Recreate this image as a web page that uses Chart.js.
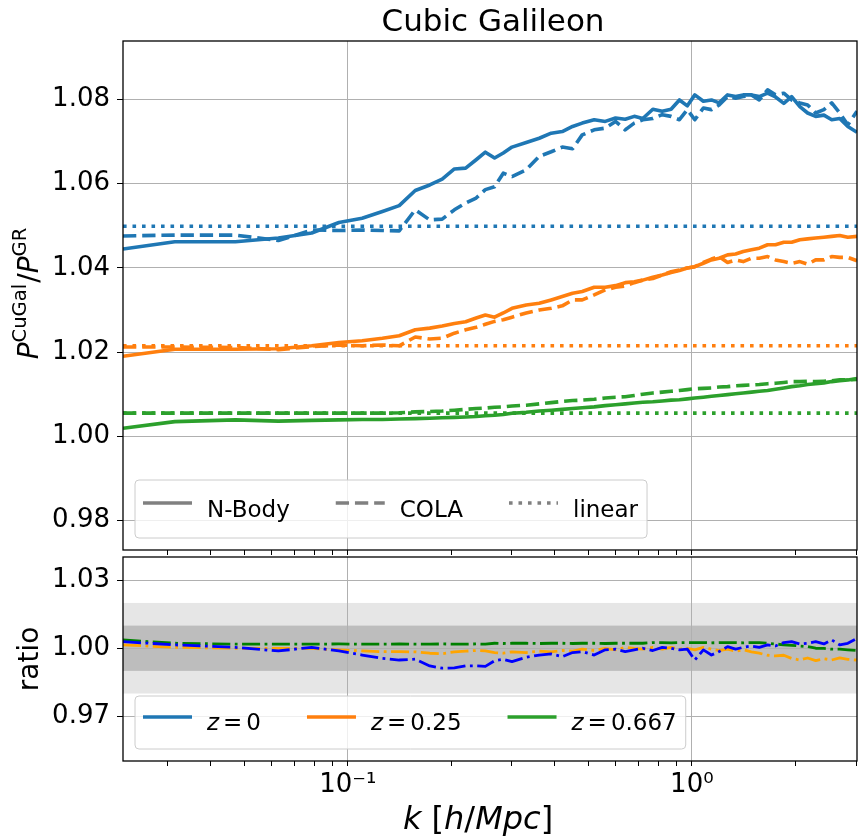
<!DOCTYPE html>
<html>
<head>
<meta charset="utf-8">
<script src="https://cdn.jsdelivr.net/npm/chart.js@4.4.0/dist/chart.umd.min.js"></script>
<style>
  html, body { margin: 0; padding: 0; background: #fff; }
  #wrap { position: relative; width: 858px; height: 836px; }
  #topBox { position: absolute; left: 0; top: 0; width: 858px; height: 556px; }
  #botBox { position: absolute; left: 0; top: 550px; width: 858px; height: 286px; }
</style>
</head>
<body>
<div id="wrap">
  <div id="topBox"><canvas id="topChart"></canvas></div>
  <div id="botBox"><canvas id="botChart"></canvas></div>
</div>
<script>
// k in h/Mpc
var kVals = [0.0222, 0.0314, 0.0471, 0.0628, 0.0785, 0.0942, 0.110, 0.126, 0.141, 0.157,
  0.173, 0.188, 0.204, 0.220, 0.236, 0.251, 0.267, 0.283, 0.300, 0.330,
  0.360, 0.390, 0.420, 0.450, 0.480, 0.520, 0.560, 0.600, 0.640, 0.680,
  0.720, 0.770, 0.820, 0.870, 0.920, 0.970, 1.020, 1.080, 1.140, 1.200,
  1.270, 1.340, 1.410, 1.490, 1.570, 1.660, 1.750, 1.850, 1.950, 2.060,
  2.170, 2.290, 2.420, 2.550, 2.690, 2.840, 3.020];

// P_CuGal / P_GR
var nbodyZ0 = [1.0445, 1.0462, 1.0462, 1.0471, 1.0483, 1.0508, 1.0518, 1.0534, 1.0548, 1.0584,
  1.0597, 1.0611, 1.0635, 1.0637, 1.0657, 1.0675, 1.0661, 1.0673, 1.0687, 1.0698,
  1.0708, 1.0720, 1.0724, 1.0736, 1.0744, 1.0752, 1.0748, 1.0756, 1.0753, 1.0760,
  1.0755, 1.0777, 1.0772, 1.0777, 1.0799, 1.0785, 1.0811, 1.0796, 1.0799, 1.0792,
  1.0811, 1.0807, 1.0811, 1.0811, 1.0807, 1.0815, 1.0806, 1.0791, 1.0807, 1.0783,
  1.0768, 1.0760, 1.0763, 1.0752, 1.0755, 1.0736, 1.0722];
var colaZ0 = [1.0476, 1.0478, 1.0478, 1.0465, 1.0490, 1.0489, 1.0490, 1.0489, 1.0488, 1.0538,
  1.0514, 1.0516, 1.0538, 1.0554, 1.0566, 1.0586, 1.0593, 1.0625, 1.0617, 1.0633,
  1.0665, 1.0676, 1.0687, 1.0683, 1.0716, 1.0728, 1.0732, 1.0748, 1.0728, 1.0744,
  1.0752, 1.0755, 1.0764, 1.0760, 1.0752, 1.0776, 1.0752, 1.0780, 1.0776, 1.0787,
  1.0807, 1.0803, 1.0807, 1.0811, 1.0799, 1.0823, 1.0811, 1.0815, 1.0799, 1.0792,
  1.0787, 1.0768, 1.0776, 1.0792, 1.0768, 1.0740, 1.0772];
var nbodyZ025 = [1.0190, 1.0207, 1.0207, 1.0208, 1.0215, 1.0223, 1.0227, 1.0233, 1.0239, 1.0253,
  1.0257, 1.0262, 1.0268, 1.0272, 1.0281, 1.0288, 1.0283, 1.0293, 1.0304, 1.0312,
  1.0316, 1.0324, 1.0332, 1.0340, 1.0344, 1.0354, 1.0354, 1.0358, 1.0365, 1.0367,
  1.0371, 1.0378, 1.0383, 1.0389, 1.0394, 1.0400, 1.0403, 1.0411, 1.0419, 1.0423,
  1.0431, 1.0433, 1.0439, 1.0443, 1.0447, 1.0455, 1.0455, 1.0461, 1.0461, 1.0467,
  1.0469, 1.0471, 1.0473, 1.0475, 1.0477, 1.0473, 1.0475];
var colaZ025 = [1.0212, 1.0212, 1.0211, 1.0206, 1.0213, 1.0217, 1.0215, 1.0217, 1.0215, 1.0236,
  1.0231, 1.0233, 1.0245, 1.0253, 1.0259, 1.0266, 1.0273, 1.0277, 1.0283, 1.0293,
  1.0300, 1.0304, 1.0310, 1.0324, 1.0324, 1.0336, 1.0348, 1.0354, 1.0357, 1.0365,
  1.0371, 1.0375, 1.0383, 1.0391, 1.0395, 1.0400, 1.0403, 1.0413, 1.0421, 1.0427,
  1.0413, 1.0419, 1.0415, 1.0423, 1.0423, 1.0427, 1.0419, 1.0415, 1.0411, 1.0415,
  1.0409, 1.0419, 1.0419, 1.0427, 1.0425, 1.0425, 1.0417];
var nbodyZ0667 = [1.0019, 1.0035, 1.0039, 1.0036, 1.0038, 1.0039, 1.0040, 1.0040, 1.0041, 1.0042,
  1.0043, 1.0044, 1.0045, 1.0046, 1.0047, 1.0049, 1.0050, 1.0052, 1.0055, 1.0057,
  1.0060, 1.0062, 1.0064, 1.0066, 1.0068, 1.0070, 1.0073, 1.0075, 1.0077, 1.0079,
  1.0081, 1.0082, 1.0084, 1.0086, 1.0087, 1.0089, 1.0091, 1.0093, 1.0095, 1.0097,
  1.0099, 1.0101, 1.0103, 1.0105, 1.0107, 1.0109, 1.0112, 1.0115, 1.0118, 1.0120,
  1.0123, 1.0125, 1.0127, 1.0130, 1.0132, 1.0134, 1.0137];
var colaZ0667 = [1.0055, 1.0055, 1.0055, 1.0055, 1.0055, 1.0055, 1.0055, 1.0055, 1.0056, 1.0058,
  1.0059, 1.0060, 1.0062, 1.0064, 1.0066, 1.0067, 1.0069, 1.0070, 1.0072, 1.0074,
  1.0077, 1.0080, 1.0083, 1.0085, 1.0086, 1.0088, 1.0091, 1.0093, 1.0094, 1.0097,
  1.0100, 1.0103, 1.0105, 1.0107, 1.0109, 1.0111, 1.0113, 1.0114, 1.0115, 1.0117,
  1.0118, 1.0120, 1.0121, 1.0122, 1.0123, 1.0125, 1.0126, 1.0128, 1.0130, 1.0130,
  1.0131, 1.0130, 1.0131, 1.0132, 1.0134, 1.0134, 1.0135];
// linear theory, flat
var linearVals = [1.0499, 1.0215, 1.0055];

// COLA / N-Body
var ratioZ0 = [1.0029, 1.0015, 1.0004, 0.9988, 1.0004, 0.9988, 0.9970, 0.9955, 0.9948, 0.9952,
  0.9922, 0.9912, 0.9913, 0.9922, 0.9922, 0.9920, 0.9945, 0.9951, 0.9941, 0.9960,
  0.9970, 0.9975, 0.9963, 0.9981, 0.9985, 0.9970, 0.9993, 0.9996, 0.9985, 0.9993,
  1.0000, 0.9990, 1.0004, 1.0000, 0.9993, 0.9996, 0.9948, 0.9993, 0.9970, 0.9985,
  1.0007, 0.9996, 1.0004, 1.0010, 1.0004, 1.0015, 1.0010, 1.0025, 1.0029, 1.0019,
  1.0022, 1.0029, 1.0019, 1.0037, 1.0015, 1.0022, 1.0044];
var ratioZ025 = [1.0015, 1.0004, 1.0000, 0.9999, 0.9999, 0.9993, 0.9988, 0.9985, 0.9985, 0.9984,
  0.9978, 0.9976, 0.9984, 0.9987, 0.9990, 0.9988, 0.9981, 0.9978, 0.9984, 0.9981,
  0.9987, 0.9984, 0.9990, 0.9987, 0.9996, 0.9990, 0.9999, 0.9993, 1.0004, 0.9999,
  0.9996, 1.0004, 0.9996, 1.0004, 0.9996, 1.0000, 0.9993, 1.0004, 0.9996, 0.9990,
  0.9996, 0.9987, 0.9993, 0.9984, 0.9978, 0.9969, 0.9966, 0.9969, 0.9955, 0.9948,
  0.9957, 0.9945, 0.9954, 0.9948, 0.9957, 0.9951, 0.9948];
var ratioZ0667 = [1.0037, 1.0022, 1.0018, 1.0018, 1.0018, 1.0019, 1.0018, 1.0018, 1.0019, 1.0018,
  1.0018, 1.0019, 1.0018, 1.0018, 1.0019, 1.0018, 1.0022, 1.0021, 1.0022, 1.0022,
  1.0021, 1.0022, 1.0022, 1.0021, 1.0022, 1.0022, 1.0021, 1.0022, 1.0022, 1.0022,
  1.0022, 1.0025, 1.0025, 1.0024, 1.0025, 1.0025, 1.0025, 1.0025, 1.0024, 1.0025,
  1.0025, 1.0025, 1.0024, 1.0025, 1.0025, 1.0022, 1.0019, 1.0015, 1.0013, 1.0010,
  1.0007, 1.0000, 0.9999, 0.9996, 0.9996, 0.9993, 0.9990];
var bandOuter = [0.98, 1.02];
var bandInner = [0.99, 1.01];

// axes
var kRange = [0.0222, 3.02];
var xTickVals = [0.03, 0.04, 0.05, 0.06, 0.07, 0.08, 0.09, 0.1, 0.2, 0.3, 0.4, 0.5, 0.6, 0.7, 0.8, 0.9, 1, 2, 3];
var xMajor = [0.1, 1];
var xMajorLabels = ['10\u207B\u00B9', '10\u2070'];
var topRange = [0.9730, 1.0939];
var topTicks = [0.98, 1.00, 1.02, 1.04, 1.06, 1.08];
var botRange = [0.9502, 1.0403];
var botTicks = [0.97, 1.00, 1.03];

var zLabels = ['0', '0.25', '0.667'];
var kindLabels = ['N-Body', 'COLA', 'linear'];

var FONT = '"DejaVu Sans", sans-serif';
var TAB = ['#1f77b4', '#ff7f0e', '#2ca02c'];
var RATIO_COL = ['blue', 'orange', 'green'];
var LW = 3.6;
var DASHED = [13.3, 5.9];
var DOTTED = [3.6, 5.9];
var DASHDOT = [18, 4.5, 2.8, 4.5];
var GRID = '#b0b0b0';

function pts(arr) {
  return kVals.map(function (k, i) { return { x: k, y: arr[i] }; });
}
function flat(v) {
  return [{ x: kRange[0], y: v }, { x: kRange[1], y: v }];
}
function line(data, color, dash, width) {
  return {
    data: data, borderColor: color, borderWidth: width || LW, borderDash: dash || [],
    borderJoinStyle: 'round', pointRadius: 0, tension: 0, fill: false
  };
}
function isMajor(v) {
  return xMajor.some(function (m) { return Math.abs(v - m) < 1e-9; });
}

// mixed italic / superscript text
function segFont(s, size) {
  return (s.it ? 'italic ' : '') + (s.sup ? size * 0.7 : size) + 'px ' + FONT;
}
function segsWidth(ctx, segs, size) {
  var w = 0;
  segs.forEach(function (s) {
    ctx.font = segFont(s, size);
    w += ctx.measureText(s.t).width + (s.gap || 0);
  });
  return w;
}
function drawSegs(ctx, segs, x, y, size, center) {
  var cx = center ? x - segsWidth(ctx, segs, size) / 2 : x;
  ctx.textAlign = 'left';
  ctx.textBaseline = 'alphabetic';
  ctx.fillStyle = '#000';
  segs.forEach(function (s) {
    ctx.font = segFont(s, size);
    ctx.fillText(s.t, cx, s.sup ? y - size * 0.42 : y);
    cx += ctx.measureText(s.t).width + (s.gap || 0);
  });
}

var framePlugin = {
  id: 'frame',
  afterDraw: function (chart) {
    var a = chart.chartArea, ctx = chart.ctx;
    ctx.save();
    ctx.strokeStyle = '#000';
    ctx.lineWidth = 1.3;
    ctx.strokeRect(a.left, a.top, a.right - a.left, a.bottom - a.top);
    ctx.restore();
  }
};

function drawLegend(chart, entries, boxH, handleDy, textDy) {
  var a = chart.chartArea, ctx = chart.ctx;
  var size = 23;
  var left = a.left + 12, top = a.bottom - 12 - boxH;
  var x = left + 8, layout = [];
  entries.forEach(function (e) {
    var tx = x + 49 + 15;
    layout.push({ hx: x, tx: tx });
    x = tx + segsWidth(ctx, e.segs, size) + 46;
  });
  var right = x - 46 + 9;
  ctx.save();
  var r = 4;
  ctx.beginPath();
  ctx.moveTo(left + r, top);
  ctx.arcTo(right, top, right, top + boxH, r);
  ctx.arcTo(right, top + boxH, left, top + boxH, r);
  ctx.arcTo(left, top + boxH, left, top, r);
  ctx.arcTo(left, top, right, top, r);
  ctx.closePath();
  ctx.fillStyle = 'rgba(255,255,255,0.8)';
  ctx.fill();
  ctx.strokeStyle = '#cccccc';
  ctx.lineWidth = 1;
  ctx.stroke();
  entries.forEach(function (e, i) {
    var L = layout[i];
    ctx.beginPath();
    ctx.setLineDash(e.dash);
    ctx.lineCap = 'butt';
    ctx.strokeStyle = e.color;
    ctx.lineWidth = LW;
    ctx.moveTo(L.hx, top + handleDy);
    ctx.lineTo(L.hx + 49, top + handleDy);
    ctx.stroke();
    ctx.setLineDash([]);
    drawSegs(ctx, e.segs, L.tx, top + textDy, size, false);
  });
  ctx.restore();
}

var topDecor = {
  id: 'topDecor',
  afterDraw: function (chart) {
    var a = chart.chartArea, ctx = chart.ctx;
    ctx.save();
    drawSegs(ctx, [{ t: 'Cubic Galileon' }], (a.left + a.right) / 2 + 3, 31, 31, true);
    ctx.translate(38, (a.top + a.bottom) / 2 - 2);
    ctx.rotate(-Math.PI / 2);
    drawSegs(ctx, [{ t: 'P', it: true }, { t: 'CuGal', sup: true, gap: 1 }, { t: '/' },
      { t: 'P', it: true }, { t: 'GR', sup: true }], 0, 0, 28, true);
    ctx.restore();
    var dashes = [[], DASHED, DOTTED];
    drawLegend(chart, kindLabels.map(function (t, i) {
      return { segs: [{ t: t }], color: '#808080', dash: dashes[i] };
    }), 58, 23, 37);
  }
};

var botDecor = {
  id: 'botDecor',
  beforeDraw: function (chart) {
    var a = chart.chartArea, ctx = chart.ctx, y = chart.scales.y;
    ctx.save();
    ctx.fillStyle = '#e6e6e6';
    ctx.fillRect(a.left, y.getPixelForValue(bandOuter[1]), a.right - a.left,
      y.getPixelForValue(bandOuter[0]) - y.getPixelForValue(bandOuter[1]));
    ctx.fillStyle = '#bdbdbd';
    ctx.fillRect(a.left, y.getPixelForValue(bandInner[1]), a.right - a.left,
      y.getPixelForValue(bandInner[0]) - y.getPixelForValue(bandInner[1]));
    ctx.restore();
  },
  afterDraw: function (chart) {
    var a = chart.chartArea, ctx = chart.ctx;
    ctx.save();
    drawSegs(ctx, [{ t: 'k', it: true }, { t: ' [' }, { t: 'h', it: true }, { t: '/' },
      { t: 'Mpc', it: true }, { t: ']' }], (a.left + a.right) / 2 - 12, 279, 32, true);
    ctx.translate(38, (a.top + a.bottom) / 2);
    ctx.rotate(-Math.PI / 2);
    drawSegs(ctx, [{ t: 'ratio' }], 0, 0, 28, true);
    ctx.restore();
    drawLegend(chart, zLabels.map(function (z, i) {
      return { segs: [{ t: 'z', it: true, gap: 4 }, { t: '=', gap: 4 }, { t: z }], color: TAB[i], dash: [] };
    }), 53, 21, 34);
  }
};

function xScale(showLabels) {
  return {
    type: 'logarithmic', min: kRange[0], max: kRange[1],
    afterBuildTicks: function (s) { s.ticks = xTickVals.map(function (v) { return { value: v }; }); },
    afterFit: function (s) { s.height = showLabels ? 75 : 6; s.paddingLeft = 0; s.paddingRight = 0; },
    border: { display: false },
    grid: {
      color: function (c) { return c.tick && isMajor(c.tick.value) ? GRID : 'rgba(0,0,0,0)'; },
      tickColor: '#000', tickLength: 5, lineWidth: 1
    },
    ticks: {
      autoSkip: false, maxRotation: 0, minRotation: 0, padding: 4, color: '#000',
      font: { family: FONT, size: 26 },
      callback: function (v) {
        if (!showLabels) return '';
        var i = xMajor.findIndex(function (m) { return Math.abs(v - m) < 1e-9; });
        return i >= 0 ? xMajorLabels[i] : '';
      }
    }
  };
}
function yScale(range, ticks) {
  return {
    min: range[0], max: range[1],
    afterBuildTicks: function (s) { s.ticks = ticks.map(function (v) { return { value: v }; }); },
    afterFit: function (s) { s.width = 123; s.paddingTop = 0; s.paddingBottom = 0; },
    border: { display: false },
    grid: { color: GRID, tickColor: '#000', tickLength: 6, lineWidth: 1 },
    ticks: {
      padding: 7, color: '#000', font: { family: FONT, size: 26 },
      callback: function (v) { return v.toFixed(2); }
    }
  };
}

var common = {
  responsive: true, maintainAspectRatio: false, animation: false,
  plugins: { legend: { display: false }, tooltip: { enabled: false }, title: { display: false } },
  parsing: false
};

var topDatasets = [];
[[nbodyZ0, colaZ0], [nbodyZ025, colaZ025], [nbodyZ0667, colaZ0667]].forEach(function (pair, i) {
  topDatasets.push(line(pts(pair[0]), TAB[i], []));
  topDatasets.push(line(pts(pair[1]), TAB[i], DASHED));
  topDatasets.push(line(flat(linearVals[i]), TAB[i], DOTTED));
});

new Chart(document.getElementById('topChart'), {
  type: 'line',
  data: { datasets: topDatasets },
  options: Object.assign({}, common, {
    layout: { padding: { top: 41, right: 1, left: 0, bottom: 0 } },
    scales: { x: xScale(false), y: yScale(topRange, topTicks) }
  }),
  plugins: [framePlugin, topDecor]
});

new Chart(document.getElementById('botChart'), {
  type: 'line',
  data: {
    datasets: [ratioZ0, ratioZ025, ratioZ0667].map(function (r, i) {
      return line(pts(r), RATIO_COL[i], DASHDOT, 2.8);
    })
  },
  options: Object.assign({}, common, {
    layout: { padding: { top: 7, right: 1, left: 0, bottom: 0 } },
    scales: { x: xScale(true), y: yScale(botRange, botTicks) }
  }),
  plugins: [framePlugin, botDecor]
});
</script>
</body>
</html>
